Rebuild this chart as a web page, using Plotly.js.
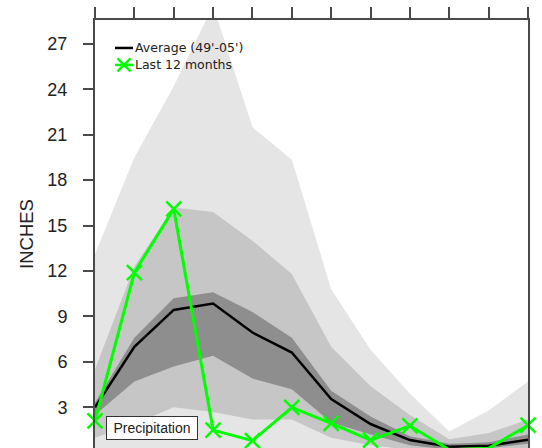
<!DOCTYPE html>
<html><head><meta charset="utf-8">
<script src="https://cdn.plot.ly/plotly-3.0.1.min.js"></script>
<style>html,body{margin:0;padding:0;background:#fff}</style>
</head><body><div id="chart" style="width:542px;height:448px"></div>
<script>
const months = [1, 2, 3, 4, 5, 6, 7, 8, 9, 10, 11, 12];
const averagePrecip = [3.0, 7.0, 9.43, 9.85, 7.94, 6.62, 3.55, 1.9, 0.84, 0.4, 0.47, 0.87];
const last12Precip = [2.1, 11.9, 16.1, 1.5, 0.8, 3.0, 1.94, 0.84, 1.78, 0.2, 0.3, 1.82];
const lightUpper = [13.1, 19.5, 24.2, 29.5, 21.5, 19.35, 10.8, 6.8, 3.9, 1.4, 2.8, 4.7];
const lightLower = [0, 0, 0, 0, 0, 0, 0, 0, 0, 0, 0, 0];
const mediumUpper = [5.5, 12.3, 16.2, 15.9, 14.0, 11.8, 7.0, 4.4, 2.5, 0.9, 1.3, 2.2];
const mediumLower = [1.0, 1.9, 3.0, 2.7, 2.2, 2.2, 1.0, 0.5, 0.2, 0.1, 0.1, 0.3];
const darkUpper = [3.3, 7.6, 10.2, 10.6, 9.3, 7.6, 4.1, 2.4, 1.1, 0.6, 0.7, 1.2];
const darkLower = [2.5, 4.7, 5.7, 6.4, 4.9, 4.2, 2.0, 1.2, 0.5, 0.2, 0.3, 0.6];
const yTickVals = [3, 6, 9, 12, 15, 18, 21, 24, 27];
const legendLabels = ["Average (49'-05')", "Last 12 months"];
const yTitle = "INCHES";
const boxLabel = "Precipitation";

const W = 542, H = 448;
const plotL = 95, plotR = 527.7, plotT = 19.5, plotB = 448;
const px = v => (v - plotL) / (plotR - plotL);
const py = v => (plotB - v) / (plotB - plotT);

function band(upper, lower, color) {
  return {
    x: months.concat(months.slice().reverse()),
    y: upper.concat(lower.slice().reverse()),
    type: 'scatter', mode: 'lines', fill: 'toself', fillcolor: color,
    line: {width: 0}, hoverinfo: 'skip', showlegend: false
  };
}

const traces = [
  band(lightUpper, lightLower, '#e5e5e5'),
  band(mediumUpper, mediumLower, '#c6c6c6'),
  band(darkUpper, darkLower, '#8e8e8e'),
  {x: months, y: averagePrecip, type: 'scatter', mode: 'lines', name: legendLabels[0],
   line: {color: '#000', width: 2.5}, showlegend: false},
  {x: months, y: last12Precip, type: 'scatter', mode: 'lines+markers', name: legendLabels[1],
   line: {color: '#00ff00', width: 3},
   marker: {symbol: 'x-thin', size: 15, line: {color: '#00ff00', width: 2.5}},
   cliponaxis: false, showlegend: false}
];

const axisColor = '#4a4a4a';
const layout = {
  width: W, height: H,
  margin: {l: plotL, r: W - plotR, t: plotT, b: H - plotB, pad: 0},
  paper_bgcolor: '#fff', plot_bgcolor: '#fff',
  showlegend: false,
  font: {family: 'Arial, Liberation Sans, sans-serif', color: '#222'},
  xaxis: {
    range: [1, 12], side: 'top', tickvals: months, showticklabels: false,
    ticks: 'outside', ticklen: 11, tickwidth: 2, tickcolor: axisColor,
    showline: true, linecolor: axisColor, linewidth: 2, mirror: false,
    showgrid: false, zeroline: false, fixedrange: true
  },
  yaxis: {
    range: [0.317, 28.57], tickvals: yTickVals, ticktext: yTickVals.map(String),
    ticks: 'outside', ticklen: 10, tickwidth: 2, tickcolor: axisColor,
    ticklabelstandoff: 12,
    tickfont: {size: 18, color: '#222', family: 'Arial, Liberation Sans, sans-serif'},
    showline: true, linecolor: axisColor, linewidth: 2, mirror: true,
    showgrid: false, zeroline: false, fixedrange: true,
    title: {text: yTitle, standoff: 9, font: {size: 18.5, color: '#222'}}
  },
  shapes: [
    {type: 'line', xref: 'paper', yref: 'paper', x0: px(115), x1: px(133), y0: py(47.5), y1: py(47.5),
     line: {color: '#000', width: 2.5}},
    {type: 'line', xref: 'paper', yref: 'paper', x0: px(115), x1: px(133), y0: py(64.5), y1: py(64.5),
     line: {color: '#00ff00', width: 2.5}},
    {type: 'line', xref: 'paper', yref: 'paper', x0: px(117.5), x1: px(130.5), y0: py(58), y1: py(71),
     line: {color: '#00ff00', width: 2.5}},
    {type: 'line', xref: 'paper', yref: 'paper', x0: px(117.5), x1: px(130.5), y0: py(71), y1: py(58),
     line: {color: '#00ff00', width: 2.5}}
  ],
  annotations: [
    {text: legendLabels[0], xref: 'paper', yref: 'paper', x: px(133), y: py(47.5),
     xanchor: 'left', yanchor: 'middle', showarrow: false,
     font: {size: 12.5, family: 'DejaVu Sans, sans-serif', color: '#222'}},
    {text: legendLabels[1], xref: 'paper', yref: 'paper', x: px(133), y: py(64.5),
     xanchor: 'left', yanchor: 'middle', showarrow: false,
     font: {size: 12.5, family: 'DejaVu Sans, sans-serif', color: '#222'}},
    {text: boxLabel, xref: 'paper', yref: 'paper', x: px(106), y: py(428),
     xanchor: 'left', yanchor: 'middle', showarrow: false, width: 84,
     bgcolor: '#fff', bordercolor: '#333', borderwidth: 1, borderpad: 3,
     font: {size: 14, family: 'Arial, Liberation Sans, sans-serif', color: '#222'}}
  ]
};

Plotly.newPlot('chart', traces, layout, {staticPlot: true, displayModeBar: false});
</script>
</body></html>
